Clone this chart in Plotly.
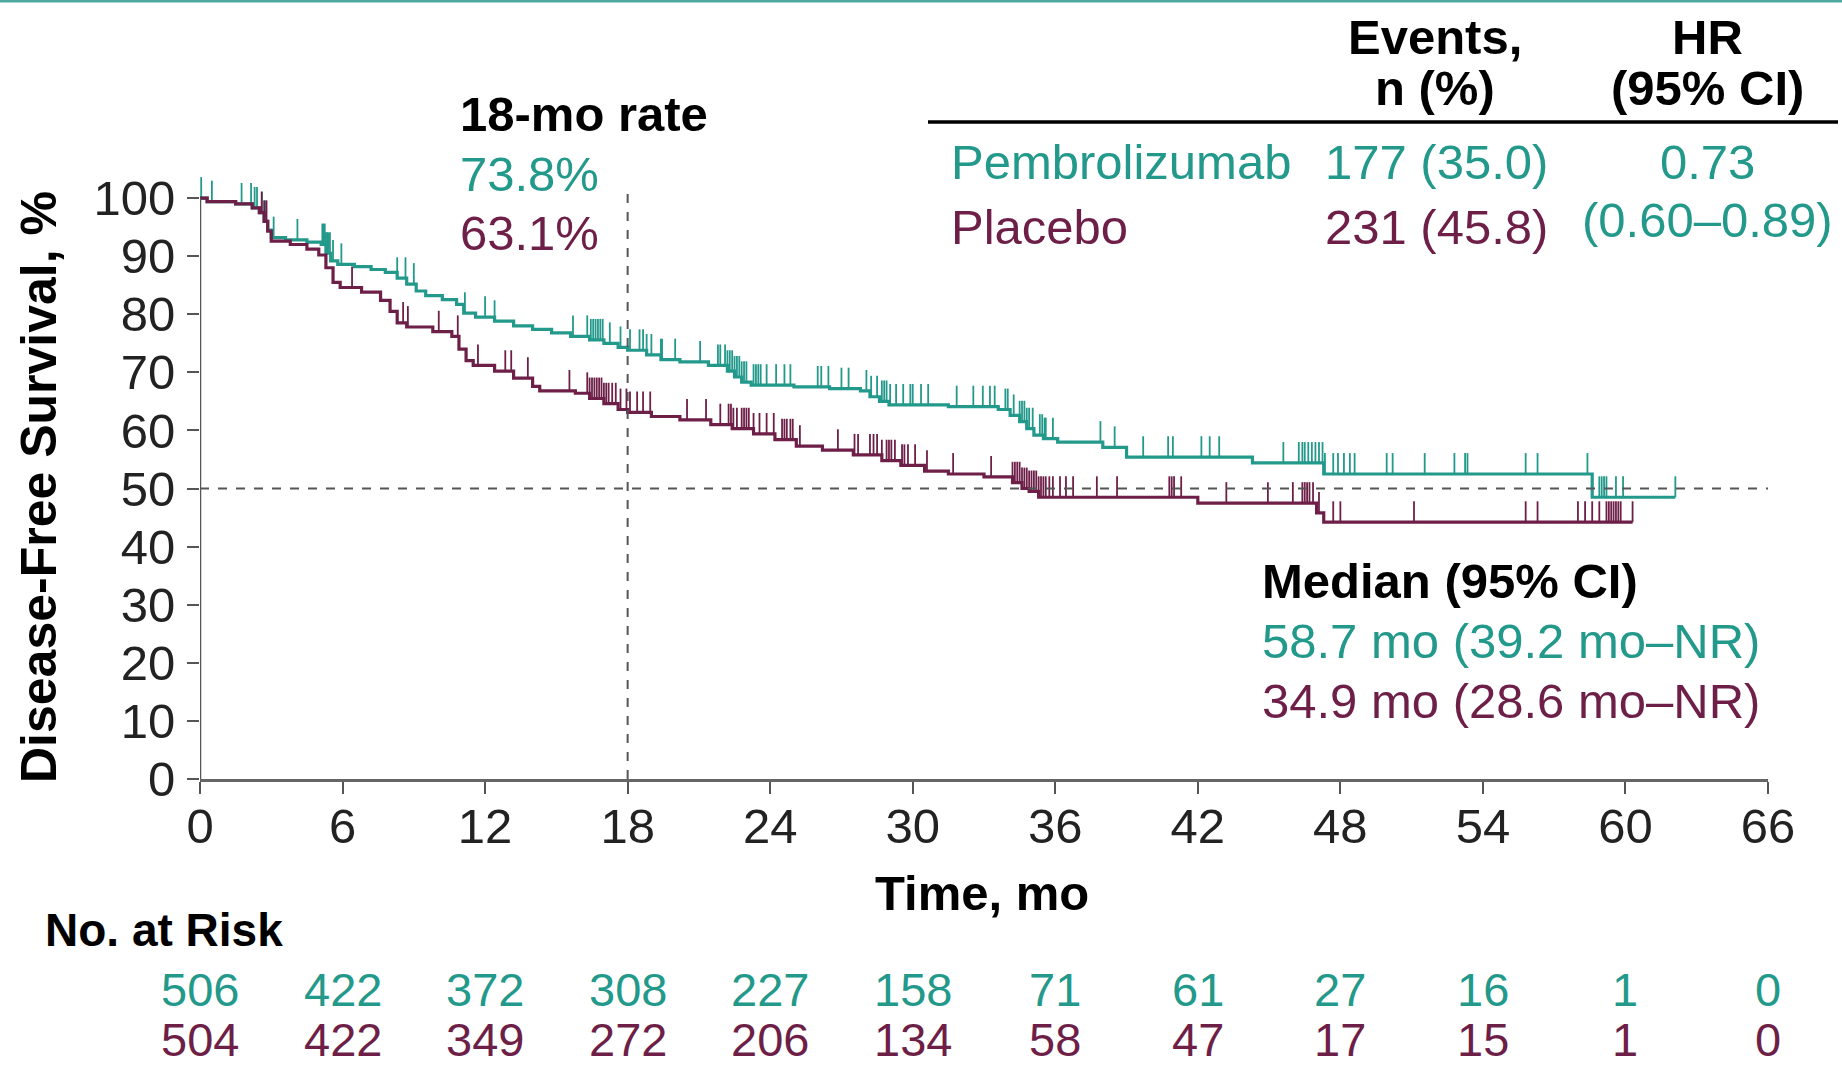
import plotly.graph_objects as go
import bisect

# ---------------- data ----------------
teal = "#22998A"
maroon = "#6E1F48"

pembro_t = [0, 0.3, 1.5, 2.2, 2.5, 2.7, 2.85, 3.0, 3.6, 4.5, 5.1, 5.3, 5.5, 5.8, 6.5, 7.2, 7.8, 8.3, 8.7, 9.1,
            9.5, 10.2, 10.8, 11.1, 11.6, 12.4, 13.2, 14.0, 14.8, 15.6, 16.4, 17.0, 17.6, 18.0, 18.8, 19.4, 20.2,
            21.4, 22.2, 22.5, 22.8, 23.2, 25.0, 26.5, 27.8, 28.2, 28.6, 29.0, 31.5, 33.6, 34.1, 34.5, 34.8, 35.1,
            35.5, 36.1, 38.0, 39.0, 44.3, 47.3, 58.6, 62.1]
pembro_s = [100, 99.4, 99.0, 98.3, 97.5, 96.0, 94.5, 93.2, 92.8, 92.4, 92.0, 90.5, 89.2, 88.6, 88.2, 87.7, 87.2,
            86.2, 85.2, 84.0, 83.2, 82.5, 81.7, 80.2, 79.5, 78.8, 78.0, 77.4, 76.8, 76.2, 75.6, 75.0, 74.3, 73.8,
            73.0, 72.2, 71.8, 71.2, 70.2, 69.2, 68.3, 67.8, 67.5, 67.2, 66.8, 65.8, 65.0, 64.4, 64.1, 63.6, 62.6,
            61.5, 60.3, 59.2, 58.6, 58.0, 57.1, 55.4, 54.4, 52.5, 48.5, 48.5]

placebo_t = [0, 0.3, 1.5, 2.2, 2.5, 2.7, 2.85, 3.0, 3.8, 4.5, 5.0, 5.3, 5.6, 5.9, 6.8, 7.6, 8.0, 8.3, 8.7, 9.8,
             10.6, 10.9, 11.2, 11.5, 12.4, 13.2, 14.0, 14.3, 15.8, 16.4, 17.0, 17.6, 18.0, 19.0, 20.2, 21.5, 22.4,
             23.3, 24.2, 25.1, 26.2, 27.5, 28.7, 29.5, 30.5, 31.5, 33.0, 34.2, 34.6, 34.9, 35.3, 42.0, 47.0, 47.3,
             60.3]
placebo_s = [100, 99.4, 99.0, 98.3, 97.5, 96.0, 94.3, 92.6, 92.0, 91.2, 90.2, 88.0, 85.5, 84.6, 83.8, 82.4, 80.5,
             78.5, 77.8, 77.0, 76.2, 74.0, 72.0, 71.2, 70.2, 69.0, 67.6, 66.8, 66.4, 65.5, 64.6, 63.6, 63.1, 62.4,
             61.8, 61.0, 60.3, 59.4, 58.4, 57.3, 56.6, 55.8, 54.8, 54.0, 53.0, 52.5, 52.0, 51.0, 50.0, 49.5, 48.5,
             47.5, 45.8, 44.2, 44.2]

pembro_censor = [0.05, 0.5, 1.75, 2.15, 2.3, 2.4, 2.6, 2.75, 3.1, 4.1, 5.15, 5.2, 5.25, 5.3, 5.35, 5.4, 5.47, 5.6,
                 5.95, 8.3, 8.65, 9.0, 11.15, 12.0, 12.4, 15.7, 16.3, 16.45, 16.55, 16.65, 16.75, 16.85, 16.95,
                 17.25, 17.7, 18.1, 18.5, 18.65, 18.8, 19.0, 19.4, 19.45, 20.0, 21.05, 21.8, 21.9, 22.1, 22.2, 22.3,
                 22.4, 22.5, 22.6, 22.7, 22.8, 22.9, 23.0, 23.3, 23.4, 23.5, 23.6, 23.85, 24.25, 24.6, 24.85, 26.0,
                 26.15, 26.45, 27.0, 27.3, 28.05, 28.25, 28.5, 28.7, 28.8, 28.9, 29.05, 29.3, 29.6, 29.9, 30.0,
                 30.35, 30.65, 31.85, 32.55, 32.95, 33.25, 33.45, 33.9, 34.0, 34.25, 34.5, 34.6, 34.7, 34.8, 34.9,
                 35.05, 35.35, 35.45, 35.55, 35.6, 35.9, 37.9, 38.5, 39.7, 40.75, 40.95, 42.15, 42.5, 42.9, 45.6,
                 46.25, 46.4, 46.5, 46.65, 46.8, 46.95, 47.1, 47.25, 47.35, 47.7, 47.9, 48.15, 48.4, 48.6, 49.95,
                 50.2, 51.55, 52.8, 53.25, 53.35, 55.8, 56.3, 58.4, 58.9, 59.0, 59.1, 59.2, 59.6, 59.9, 62.1]

placebo_censor = [2.6, 2.7, 2.8, 6.4, 8.55, 8.75, 10.05, 10.85, 11.7, 12.85, 13.1, 13.8, 15.55, 16.3, 16.4, 16.5,
                  16.6, 16.7, 16.8, 16.9, 17.0, 17.1, 17.2, 17.35, 17.5, 17.7, 17.95, 18.1, 18.4, 18.65, 18.95,
                  20.5, 21.3, 21.9, 22.25, 22.35, 22.45, 22.6, 22.8, 22.9, 23.0, 23.1, 23.3, 23.55, 23.85, 24.15,
                  24.5, 24.6, 24.7, 24.85, 24.95, 25.25, 26.85, 27.55, 27.7, 28.2, 28.35, 28.5, 28.7, 28.9, 29.0,
                  29.1, 29.25, 29.55, 29.65, 29.8, 30.1, 30.6, 31.7, 33.3, 34.2, 34.3, 34.4, 34.5, 34.6, 34.7,
                  34.8, 34.9, 35.0, 35.1, 35.2, 35.3, 35.4, 35.5, 35.6, 35.75, 35.9, 36.2, 36.45, 36.75, 37.75,
                  38.6, 40.8, 40.9, 41.0, 41.3, 43.2, 44.95, 46.0, 46.4, 46.5, 46.6, 46.7, 46.85, 47.1, 47.7, 48.0,
                  51.1, 55.8, 56.3, 58.0, 58.3, 58.6, 58.9, 59.2, 59.3, 59.4, 59.5, 59.6, 59.7, 59.8, 60.3]

x_ticks = [0, 6, 12, 18, 24, 30, 36, 42, 48, 54, 60, 66]
y_ticks = [0, 10, 20, 30, 40, 50, 60, 70, 80, 90, 100]
risk_pembro = ["506", "422", "372", "308", "227", "158", "71", "61", "27", "16", "1", "0"]
risk_placebo = ["504", "422", "349", "272", "206", "134", "58", "47", "17", "15", "1", "0"]

rate_18 = ["73.8%", "63.1%"]
events = ["177 (35.0)", "231 (45.8)"]
arms = ["Pembrolizumab", "Placebo"]
hr_text = ["0.73", "(0.60–0.89)"]
medians = ["58.7 mo (39.2 mo–NR)", "34.9 mo (28.6 mo–NR)"]

# ---------------- layout geometry ----------------
W, H = 1842, 1066
L, R, T, B = 200, 1768, 169, 779
PW, PH = R - L, B - T
FONT = "Liberation Sans, Arial, sans-serif"
FS = 49
FS_RISK = 47


def px(x):
    return (x - L) / PW


def py(y):
    return (B - y) / PH


def step_value(times, surv, t):
    i = bisect.bisect_right(times, t) - 1
    return surv[max(i, 0)]


def censor_xy(ctimes, times, surv, h=3.6):
    xs, ys = [], []
    for c in ctimes:
        s = step_value(times, surv, c)
        xs += [c, c, None]
        ys += [s, s + h, None]
    return xs, ys


fig = go.Figure()

for t, s, c, col, name in [(pembro_t, pembro_s, pembro_censor, teal, "Pembrolizumab"),
                           (placebo_t, placebo_s, placebo_censor, maroon, "Placebo")]:
    fig.add_trace(go.Scatter(x=t, y=s, mode="lines", line=dict(color=col, width=3.2, shape="hv"),
                             name=name, showlegend=False, hoverinfo="skip"))
    cx, cy = censor_xy(c, t, s)
    fig.add_trace(go.Scatter(x=cx, y=cy, mode="lines", line=dict(color=col, width=1.8),
                             showlegend=False, hoverinfo="skip", connectgaps=False))

shapes = [
    dict(type="line", xref="x", yref="y", x0=0, x1=0, y0=0, y1=100, line=dict(color="#555555", width=2.5)),
    dict(type="line", xref="x", yref="y", x0=0, x1=66, y0=50, y1=50,
         line=dict(color="#555555", width=2, dash="dash")),
    dict(type="line", xref="x", yref="y", x0=18, x1=18, y0=0, y1=102,
         line=dict(color="#555555", width=2, dash="dash")),
    dict(type="line", xref="paper", yref="paper", x0=px(928), x1=px(1838), y0=py(122), y1=py(122),
         line=dict(color="black", width=3.5)),
    dict(type="line", xref="paper", yref="paper", x0=px(0), x1=px(W), y0=py(1), y1=py(1),
         line=dict(color="#4FA9A0", width=3)),
]


def ann(text, x, y, color="black", xanchor="left", size=FS, **kw):
    return dict(text=text, x=px(x), y=py(y), xref="paper", yref="paper", showarrow=False,
                xanchor=xanchor, yanchor="middle", font=dict(family=FONT, size=size, color=color), **kw)


annotations = [
    ann("<b>18-mo rate</b>", 458, 114),
    ann(rate_18[0], 458, 174, teal),
    ann(rate_18[1], 458, 233, maroon),
    ann("<b>Events,</b>", 1435, 37, xanchor="center"),
    ann("<b>n (%)</b>", 1435, 88, xanchor="center"),
    ann("<b>HR</b>", 1707, 37, xanchor="center"),
    ann("<b>(95% CI)</b>", 1707, 88, xanchor="center"),
    ann(arms[0], 949, 162, teal),
    ann(events[0], 1550, 162, teal, xanchor="right"),
    ann(hr_text[0], 1707, 162, teal, xanchor="center"),
    ann(arms[1], 949, 227, maroon),
    ann(events[1], 1550, 227, maroon, xanchor="right"),
    ann(hr_text[1], 1707, 220, teal, xanchor="center"),
    ann("<b>Median (95% CI)</b>", 1260, 581),
    ann(medians[0], 1260, 641, teal),
    ann(medians[1], 1260, 701, maroon),
    ann("<b>Disease-Free Survival, %</b>", 39, 487, xanchor="center", textangle=-90, size=50),
    ann("<b>Time, mo</b>", 982, 893, xanchor="center"),
    ann("<b>No. at Risk</b>", 43, 930, size=46),
]

for xt, a, b in zip(x_ticks, risk_pembro, risk_placebo):
    annotations.append(dict(text=a, x=xt, y=py(989), xref="x", yref="paper", showarrow=False,
                            xanchor="center", yanchor="middle",
                            font=dict(family=FONT, size=FS_RISK, color=teal)))
    annotations.append(dict(text=b, x=xt, y=py(1039), xref="x", yref="paper", showarrow=False,
                            xanchor="center", yanchor="middle",
                            font=dict(family=FONT, size=FS_RISK, color=maroon)))

fig.update_layout(
    width=W, height=H, autosize=False,
    margin=dict(l=L, r=W - R, t=T, b=H - B, pad=0),
    paper_bgcolor="white", plot_bgcolor="white",
    shapes=shapes, annotations=annotations,
    xaxis=dict(range=[0, 66], tickvals=x_ticks, ticks="outside", ticklen=12, tickwidth=2, tickcolor="#555555",
               showline=True, linecolor="#666666", linewidth=3, showgrid=False, zeroline=False,
               tickfont=dict(family=FONT, size=FS, color="#222222"), ticklabelstandoff=-10),
    yaxis=dict(range=[0, 105], tickvals=y_ticks, ticks="outside", ticklen=12, tickwidth=2, tickcolor="#555555",
               showline=False, showgrid=False, zeroline=False,
               tickfont=dict(family=FONT, size=FS, color="#222222"), ticklabelstandoff=2),
)

fig.write_html("out.html")
